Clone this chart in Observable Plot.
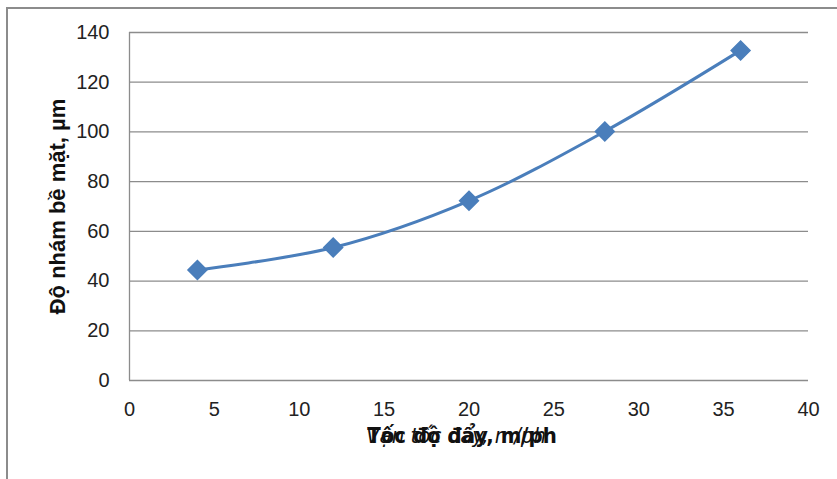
<!DOCTYPE html>
<html><head><meta charset="utf-8">
<script src="https://cdn.jsdelivr.net/npm/d3@7"></script>
<script src="https://cdn.jsdelivr.net/npm/@observablehq/plot@0.6"></script>
<style>
html,body{margin:0;padding:0;background:#fff;}
#wrap{position:relative;width:837px;height:479px;overflow:hidden;}
#frame{position:absolute;left:6px;top:7px;width:840px;height:480px;border-left:2px solid #8c8c8c;border-top:2px solid #8c8c8c;box-sizing:border-box;pointer-events:none;}
</style></head>
<body><div id="wrap"><div id="frame"></div></div>
<script>
const speeds = [4, 12, 20, 28, 36];
const roughness = [44.5, 53.5, 72.3, 100.2, 132.8];
const xTicks = [0, 5, 10, 15, 20, 25, 30, 35, 40];
const yTicks = [0, 20, 40, 60, 80, 100, 120, 140];
const yLabel = "Độ nhám bề mặt, µm";
const xLabelA = "Vận tốc đẩy, m/ph";
const xLabelB = "Tốc độ đẩy, m/ph";

const data = speeds.map((s, i) => ({x: s, y: roughness[i]}));
const col = "#4a7ebb";
const tickFont = "'Liberation Sans',Arial,sans-serif";
const labelFont = "'Liberation Sans Narrow','DejaVu Sans Condensed',Arial,sans-serif";

const chart = Plot.plot({
  width: 837, height: 479,
  marginLeft: 129, marginRight: 29, marginTop: 32, marginBottom: 99,
  style: {fontFamily: tickFont, fontSize: "20px", color: "#222", background: "transparent"},
  x: {domain: [0, 40], ticks: xTicks, label: null, tickSize: 0, tickPadding: 21},
  y: {domain: [0, 140], ticks: yTicks, label: null, tickSize: 0, tickPadding: 20},
  marks: [
    Plot.gridY(yTicks, {stroke: "#8c8c8c", strokeOpacity: 1, strokeWidth: 1.3}),
    Plot.ruleX([0], {stroke: "#8c8c8c", strokeWidth: 1.3}),
    Plot.line(data, {x: "x", y: "y", stroke: col, strokeWidth: 3, curve: "catmull-rom"}),
    Plot.dot(data, {x: "x", y: "y", symbol: "diamond2", r: 8.5, fill: col, stroke: col}),
    Plot.text([yLabel], {frameAnchor: "left", textAnchor: "middle", dx: -72, dy: 0, rotate: -90, fontWeight: "bold",
      fontFamily: "'Liberation Sans','DejaVu Sans',Arial,sans-serif", fontSize: 22, fill: "#111"}),
    Plot.text([xLabelA], {frameAnchor: "bottom", dx: -13, dy: 62, fontStyle: "italic",
      fontFamily: labelFont, fontSize: 22, fill: "#111"}),
    Plot.text([xLabelB], {frameAnchor: "bottom", dx: -7, dy: 62, fontWeight: "bold",
      fontFamily: labelFont, fontSize: 22, fill: "#111"})
  ]
});
document.getElementById("wrap").appendChild(chart);
chart.style.position = "absolute"; chart.style.left = "0"; chart.style.top = "0";
</script>
</body></html>
